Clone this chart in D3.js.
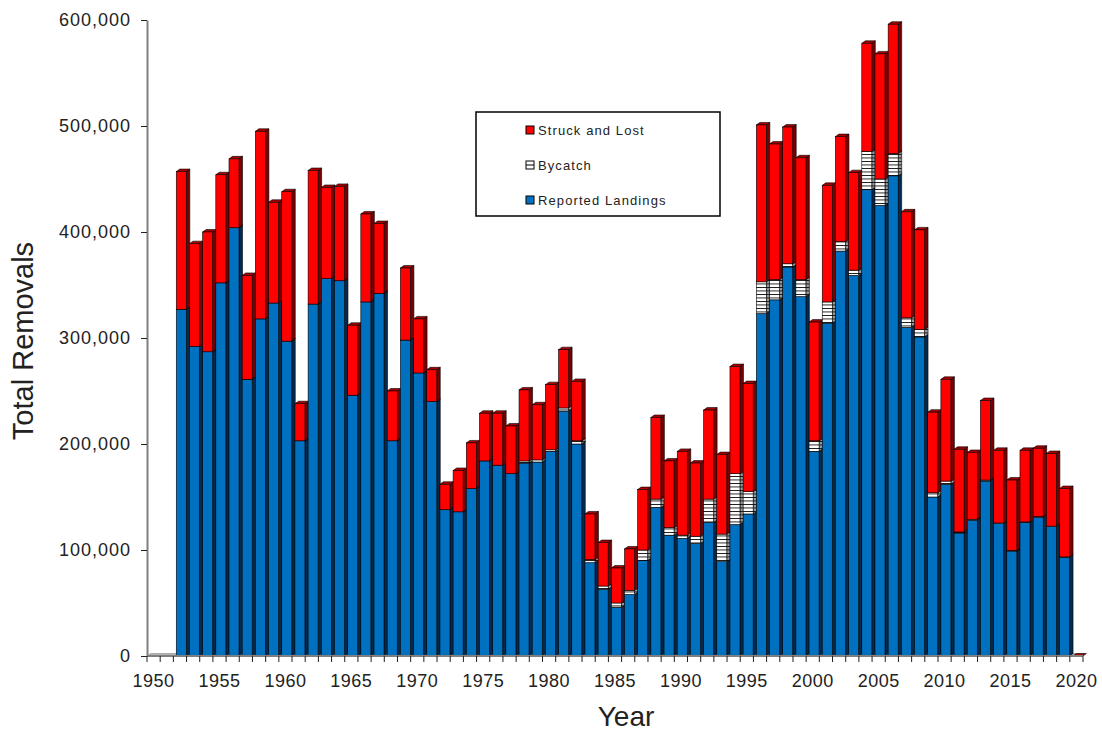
<!DOCTYPE html>
<html>
<head>
<meta charset="utf-8">
<script src="https://cdn.jsdelivr.net/npm/d3@7"></script>
<style>
  body { margin: 0; background: #fff; }
  text { font-family: "Liberation Sans", Arial, sans-serif; }
</style>
</head>
<body>
<div id="chart"></div>
<script>
// Axis categories (every year on the axis) and labelled years
const axisYears = d3.range(1950, 2021);
const xLabels = [1950, 1955, 1960, 1965, 1970, 1975, 1980, 1985, 1990, 1995, 2000, 2005, 2010, 2015, 2020];
const yTicks = [0, 100000, 200000, 300000, 400000, 500000, 600000];

// Years with bars
const barYears = [
  1952, 1953, 1954, 1955, 1956, 1957, 1958, 1959, 1960, 1961,
  1962, 1963, 1964, 1965, 1966, 1967, 1968, 1969, 1970, 1971,
  1972, 1973, 1974, 1975, 1976, 1977, 1978, 1979, 1980, 1981,
  1982, 1983, 1984, 1985, 1986, 1987, 1988, 1989, 1990, 1991,
  1992, 1993, 1994, 1995, 1996, 1997, 1998, 1999, 2000, 2001,
  2002, 2003, 2004, 2005, 2006, 2007, 2008, 2009, 2010, 2011,
  2012, 2013, 2014, 2015, 2016, 2017, 2018, 2019, 2020
];

const reportedLandings = [
  327000, 292000, 287000, 352000, 404000, 261000, 318000, 333000, 297000, 203000,
  332000, 356000, 354000, 246000, 334000, 342000, 203000, 298000, 267000, 240000,
  138000, 136000, 158000, 184000, 180000, 172000, 182000, 183000, 193000, 231000,
  200000, 88000, 63000, 46000, 58000, 90000, 140000, 114000, 111000, 106000,
  126000, 89000, 124000, 134000, 323000, 336000, 367000, 339000, 193000, 314000,
  382000, 359000, 440000, 425000, 453000, 310000, 301000, 150000, 162000, 116000,
  128000, 165000, 125000, 99000, 126000, 131000, 122000, 93000, 0
];

const bycatch = [
  0, 0, 0, 0, 0, 0, 0, 0, 0, 0,
  0, 0, 0, 0, 0, 0, 0, 0, 0, 0,
  0, 0, 0, 0, 0, 0, 2000, 2000, 1500, 3000,
  3000, 3000, 3000, 4000, 4000, 10000, 8000, 7000, 3000, 7000,
  22000, 26000, 48000, 21000, 30000, 19000, 3000, 16000, 10000, 20000,
  9000, 5000, 36000, 25000, 21000, 9000, 7000, 4000, 3000, 1000,
  1000, 1000, 500, 500, 500, 500, 500, 500, 0
];

const struckAndLost = [
  130000, 97000, 113000, 102000, 65000, 98000, 177000, 95000, 141000, 35000,
  126000, 86000, 89000, 66000, 83000, 66000, 47000, 68000, 51000, 30000,
  24000, 39000, 43000, 45000, 49000, 45000, 67000, 52000, 61500, 55000,
  56000, 43000, 41000, 33000, 39000, 57000, 77000, 63000, 79000, 69000,
  84000, 75000, 101000, 102000, 148000, 128000, 129000, 115000, 112000, 110000,
  99000, 92000, 102000, 118000, 122000, 100000, 94000, 76000, 96000, 78000,
  63000, 75000, 68500, 66500, 67500, 64500, 68500, 64500, 0
];

const seriesInfo = [
  { key: 'landings', label: 'Reported Landings', values: reportedLandings, front: '#0070c0', side: '#002a4e', top: '#004a85' },
  { key: 'bycatch', label: 'Bycatch', values: bycatch, front: 'url(#bycatchFront)', side: 'url(#bycatchSide)', top: '#d8d8d8' },
  { key: 'struck', label: 'Struck and Lost', values: struckAndLost, front: '#ff0000', side: '#780000', top: '#a80000' }
];

const width = 1102;
const height = 731;

const svg = d3.select('#chart')
  .append('svg')
  .attr('width', width)
  .attr('height', height);

// Scales
const x = d3.scaleBand()
  .domain(axisYears)
  .range([147, 1083]);

const y = d3.scaleLinear()
  .domain([0, 600000])
  .range([656, 20]);

// 3D depth offset
const dx = 3.5;
const dy = -2.5;
const barW = x.bandwidth() * 0.76;
const barOff = x.bandwidth() * 0.22;

// Bycatch stripe patterns
const defs = svg.append('defs');
function stripe(id, bg) {
  const p = defs.append('pattern')
    .attr('id', id)
    .attr('patternUnits', 'userSpaceOnUse')
    .attr('width', 8)
    .attr('height', 3.5);
  p.append('rect').attr('width', 8).attr('height', 3.5).attr('fill', bg);
  p.append('rect').attr('y', 0).attr('width', 8).attr('height', 0.9).attr('fill', '#111');
}
stripe('bycatchFront', '#ffffff');
stripe('bycatchSide', '#9a9a9a');

// Floor
const x0 = x.range()[0], x1 = x.range()[1];
svg.append('path')
  .attr('d', `M${x0},${y(0)}L${x1},${y(0)}L${x1 + dx},${y(0) + dy}L${x0 + dx},${y(0) + dy}Z`)
  .attr('fill', '#b4b4b4')
  .attr('stroke', '#8a8a8a')
  .attr('stroke-width', 0.6);

// Bars
const bars = svg.append('g');
const poly = pts => 'M' + pts.map(p => p.join(',')).join('L') + 'Z';

barYears.forEach((yr, i) => {
  const bx = x(yr) + barOff;
  const g = bars.append('g');
  let base = 0;
  let total = 0;
  seriesInfo.forEach(s => total += s.values[i]);

  if (total === 0) {
    // zero-height bar: only its top face shows on the floor
    const yb = y(0);
    g.append('path')
      .attr('d', poly([[bx, yb], [bx + barW, yb], [bx + barW + dx, yb + dy], [bx + dx, yb + dy]]))
      .attr('fill', '#a00000')
      .attr('stroke', '#000')
      .attr('stroke-width', 0.5);
    return;
  }

  seriesInfo.forEach(s => {
    const v = s.values[i];
    if (v <= 0) return;
    const yb = y(base);
    const yt = y(base + v);
    base += v;

    // side face
    g.append('path')
      .attr('d', poly([[bx + barW, yb], [bx + barW + dx, yb + dy], [bx + barW + dx, yt + dy], [bx + barW, yt]]))
      .attr('fill', s.side)
      .attr('stroke', '#000')
      .attr('stroke-width', 0.6);
    // top face
    g.append('path')
      .attr('d', poly([[bx, yt], [bx + barW, yt], [bx + barW + dx, yt + dy], [bx + dx, yt + dy]]))
      .attr('fill', s.top)
      .attr('stroke', '#000')
      .attr('stroke-width', 0.6);
    // front face
    g.append('rect')
      .attr('x', bx)
      .attr('y', yt)
      .attr('width', barW)
      .attr('height', yb - yt)
      .attr('fill', s.front)
      .attr('stroke', '#000')
      .attr('stroke-width', 0.6);
  });
});

// Y axis
const yAxis = svg.append('g')
  .attr('transform', 'translate(147,0)')
  .call(d3.axisLeft(y)
    .tickValues(yTicks)
    .tickFormat(d3.format(','))
    .tickSize(6)
    .tickSizeOuter(0)
    .tickPadding(10));

yAxis.select('.domain').attr('stroke', '#7f7f7f').attr('stroke-width', 2);
yAxis.selectAll('.tick line').attr('stroke', '#222').attr('stroke-width', 1);
yAxis.selectAll('.tick text')
  .attr('font-size', 18)
  .attr('fill', '#222')
  .style('letter-spacing', '1px')
  .style('font-family', '"Liberation Sans", Arial, sans-serif');

// X axis (ticks sit between categories)
const xAxis = svg.append('g');
xAxis.append('line')
  .attr('x1', x0).attr('x2', x1)
  .attr('y1', y(0)).attr('y2', y(0))
  .attr('stroke', '#7f7f7f')
  .attr('stroke-width', 2);

const tickPos = axisYears.map(d => x(d)).concat([x1]);
xAxis.selectAll('line.xtick')
  .data(tickPos)
  .join('line')
  .attr('class', 'xtick')
  .attr('x1', d => d).attr('x2', d => d)
  .attr('y1', y(0)).attr('y2', y(0) + 6)
  .attr('stroke', '#222')
  .attr('stroke-width', 1);

xAxis.selectAll('text')
  .data(xLabels)
  .join('text')
  .attr('x', d => x(d) + x.bandwidth() / 2)
  .attr('y', 687)
  .attr('text-anchor', 'middle')
  .attr('font-size', 18)
  .attr('fill', '#222')
  .style('letter-spacing', '0.5px')
  .text(d => d);

// Axis titles
svg.append('text')
  .attr('x', 626)
  .attr('y', 726)
  .attr('text-anchor', 'middle')
  .attr('font-size', 28)
  .attr('fill', '#222')
  .text('Year');

svg.append('text')
  .attr('transform', 'translate(33,341) rotate(-90)')
  .attr('text-anchor', 'middle')
  .attr('font-size', 29)
  .attr('fill', '#222')
  .text('Total Removals');

// Legend
const legend = svg.append('g');
legend.append('rect')
  .attr('x', 476).attr('y', 112)
  .attr('width', 244).attr('height', 104)
  .attr('fill', '#fff')
  .attr('stroke', '#000')
  .attr('stroke-width', 1.5);

const legendRows = [
  { s: seriesInfo[2], cy: 130 },
  { s: seriesInfo[1], cy: 165 },
  { s: seriesInfo[0], cy: 200 }
];

legendRows.forEach(r => {
  const key = r.s.key;
  legend.append('rect')
    .attr('x', 526).attr('y', r.cy - 4)
    .attr('width', 8).attr('height', 8)
    .attr('fill', key === 'bycatch' ? '#fff' : r.s.front)
    .attr('stroke', '#000')
    .attr('stroke-width', 1);
  if (key === 'bycatch') {
    legend.append('line')
      .attr('x1', 526).attr('x2', 534)
      .attr('y1', r.cy).attr('y2', r.cy)
      .attr('stroke', '#000')
      .attr('stroke-width', 1);
  }
  legend.append('text')
    .attr('x', 538)
    .attr('y', r.cy + 5)
    .attr('font-size', 13)
    .attr('fill', '#222')
    .style('letter-spacing', '1.1px')
    .text(r.s.label);
});
</script>
</body>
</html>
